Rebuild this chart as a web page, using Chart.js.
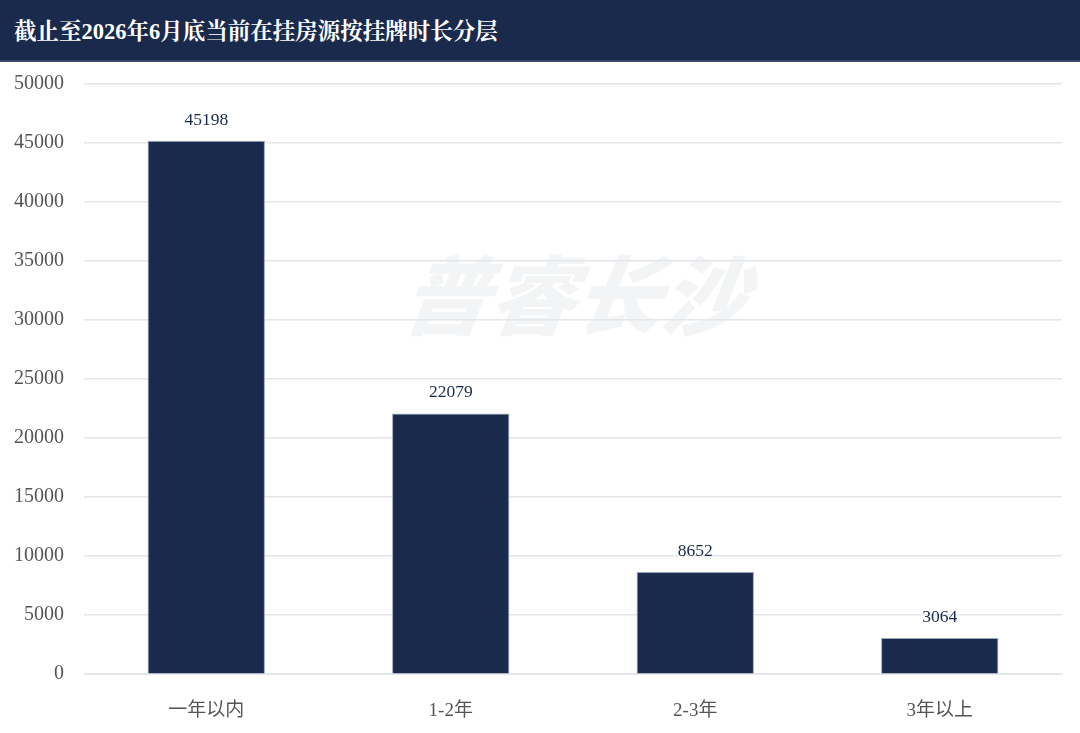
<!DOCTYPE html>
<html><head><meta charset="utf-8">
<script src="https://cdn.jsdelivr.net/npm/chart.js@4/dist/chart.umd.min.js"></script>
<style>
html,body{margin:0;padding:0;background:#fff;width:1080px;height:733px;overflow:hidden;position:relative;}
#title{position:absolute;left:0;top:0;width:1066px;z-index:2;height:60px;background:#1a2a4c;color:#fff;font-family:"Liberation Serif","Noto Serif CJK SC","Noto Sans CJK SC",serif;font-weight:bold;font-size:22.5px;line-height:64px;padding-left:14px;border-bottom:2px solid #3a4a6c;box-sizing:content-box;}
#wm{position:absolute;left:405px;top:236px;z-index:0;font-family:"Noto Sans CJK SC",sans-serif;font-weight:900;font-style:italic;font-size:86px;line-height:110px;color:#f3f4f5;white-space:nowrap;transform:skewX(-8deg);}
#wrap{position:absolute;left:0;top:52px;width:1080px;height:687px;z-index:1;}
</style></head><body>
<div id="title">截止至2026年6月底当前在挂房源按挂牌时长分层</div>
<div id="wm">普睿长沙</div>
<div id="wrap"><canvas id="c"></canvas></div>
<script>
const categories = ["一年以内","1-2年","2-3年","3年以上"];
const values = [45198, 22079, 8652, 3064];
const yTicks = [0,5000,10000,15000,20000,25000,30000,35000,40000,45000,50000];

const FONT = '"Liberation Serif","Noto Sans CJK SC",serif';
const labelPlugin = {
  id:'vlabels',
  afterDatasetsDraw(chart){
    const ctx = chart.ctx;
    const meta = chart.getDatasetMeta(0);
    ctx.save();
    ctx.font = '17.5px ' + FONT;
    ctx.fillStyle = '#1a2a4c';
    ctx.textAlign = 'center';
    ctx.textBaseline = 'bottom';
    meta.data.forEach((bar,i)=>{
      ctx.fillText(String(values[i]), bar.x, bar.y - 12);
    });
    ctx.restore();
  }
};

new Chart(document.getElementById('c'), {
  type:'bar',
  data:{labels:categories, datasets:[{data:values, backgroundColor:'#1a2a4c', borderColor:'#9aa6b8', borderWidth:1, barPercentage:0.96, categoryPercentage:0.5}]},
  options:{
    responsive:true, maintainAspectRatio:false, animation:false,
    layout:{padding:{top:4,right:18,left:-6,bottom:0}},
    plugins:{legend:{display:false}, tooltip:{enabled:false}},
    scales:{
      x:{grid:{display:false}, border:{display:true,color:'#e3e6ea'},
         ticks:{color:'#555',font:{family:FONT,size:19},padding:17}},
      y:{min:0,max:50000, afterBuildTicks(s){s.ticks=yTicks.map(v=>({value:v}));},
         grid:{color:'#e3e6ea',lineWidth:1.5,drawTicks:false}, border:{display:false},
         ticks:{color:'#555',font:{family:FONT,size:20},padding:20,callback:(v)=>String(v)}}
    }
  },
  plugins:[labelPlugin]
});
</script>
</body></html>
